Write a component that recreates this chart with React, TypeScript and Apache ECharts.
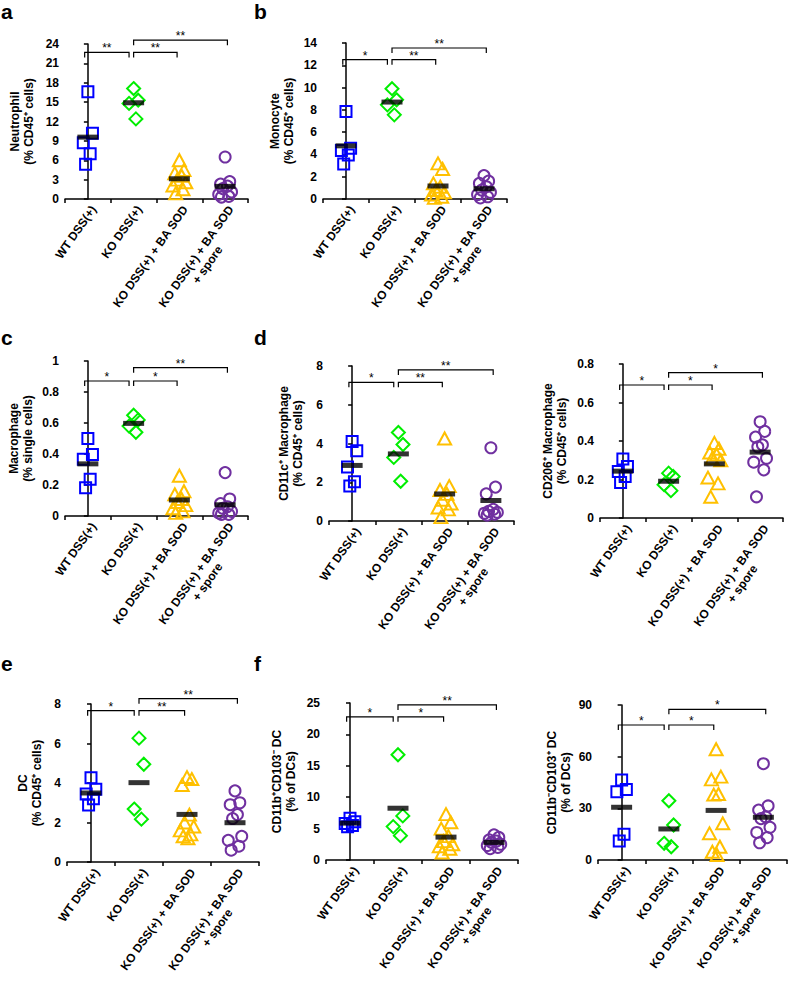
import React, { useEffect, useRef } from 'react';
import * as echarts from 'echarts';

const FONT = '"Liberation Sans", Arial, Helvetica, sans-serif';

const groupLabels = ['WT DSS(+)', 'KO DSS(+)', 'KO DSS(+) + BA SOD', 'KO DSS(+) + BA SOD\n+ spore'];
const groupColors = ['#0000FF', '#00EE00', '#FFC000', '#7030A0'];
const groupSymbols = ['rect', 'diamond', 'triangle', 'circle'];

// values per group: WT, KO, KO+BA SOD, KO+BA SOD+spore
const neutrophil = [
  [16.6, 10.2, 8.7, 7.0, 5.4],
  [17.1, 15.3, 14.8, 12.4],
  [6.0, 4.5, 4.0, 3.6, 3.0, 2.6, 2.1, 1.5, 0.9],
  [6.5, 2.7, 2.3, 2.0, 1.6, 1.1, 0.7, 0.4, 0.3],
];
const monocyte = [
  [7.85, 4.55, 4.35, 3.95, 3.15],
  [9.9, 8.9, 8.45, 7.55],
  [3.2, 2.7, 1.4, 1.1, 0.8, 0.6, 0.4, 0.2, 0.1],
  [2.1, 1.6, 1.4, 1.1, 0.8, 0.6, 0.4, 0.2, 0.1],
];
const macrophage = [
  [0.5, 0.396, 0.366, 0.237, 0.183],
  [0.65, 0.62, 0.58, 0.54],
  [0.26, 0.16, 0.14, 0.11, 0.09, 0.07, 0.05, 0.03, 0.02],
  [0.28, 0.11, 0.08, 0.06, 0.05, 0.03, 0.02, 0.01, 0.01],
];
const cd11cMacrophage = [
  [4.1, 3.62, 2.79, 2.02, 1.81],
  [4.57, 3.95, 3.28, 2.05],
  [4.26, 1.8, 1.6, 1.4, 1.1, 0.9, 0.7, 0.6, 0.2],
  [3.78, 1.75, 1.4, 0.6, 0.5, 0.45, 0.4, 0.35, 0.3],
];
const cd206Macrophage = [
  [0.306, 0.268, 0.242, 0.216, 0.185],
  [0.233, 0.216, 0.173, 0.142],
  [0.39, 0.36, 0.34, 0.33, 0.31, 0.3, 0.21, 0.18, 0.11],
  [0.5, 0.45, 0.42, 0.38, 0.37, 0.31, 0.29, 0.25, 0.11],
];
const dendritic = [
  [4.27, 3.68, 3.44, 3.2, 2.88],
  [6.27, 4.95, 2.68, 2.17],
  [4.3, 4.2, 3.9, 2.4, 2.0, 1.8, 1.6, 1.4, 1.3, 1.2],
  [3.6, 3.0, 2.9, 2.4, 2.2, 1.3, 1.1, 0.8, 0.6],
];
const cd11bPosDC = [
  [6.65, 6.1, 5.8, 5.5, 5.3],
  [16.76, 7.02, 5.32, 3.88],
  [7.3, 6.0, 5.0, 3.8, 3.0, 2.5, 2.2, 1.8, 1.2],
  [4.0, 3.6, 3.2, 3.0, 2.8, 2.5, 2.3, 2.0, 1.8],
];
const cd103PosDC = [
  [46.4, 41, 39.7, 15, 11],
  [34.4, 20.3, 9.7, 7.7],
  [64.3, 48.4, 46.8, 38.3, 38, 21.3, 15.5, 7.7, 4.8, 2.9],
  [55.9, 31.4, 29, 25, 24, 19, 16, 13, 10],
];

// significance brackets: heights and labels (pairs WT–KO, KO–BA SOD, KO–spore)
const neutrophilSig = [22.7, 22.7, 24.6];
const neutrophilStars = ['**', '**', '**'];
const monocyteSig = [12.5, 12.5, 13.55];
const monocyteStars = ['*', '**', '**'];
const macrophageSig = [0.871, 0.871, 0.957];
const macrophageStars = ['*', '*', '**'];
const cd11cSig = [7.16, 7.16, 7.8];
const cd11cStars = ['*', '**', '**'];
const cd206Sig = [0.691, 0.691, 0.755];
const cd206Stars = ['*', '*', '*'];
const dcSig = [7.66, 7.66, 8.27];
const dcStars = ['*', '**', '**'];
const cd11bSig = [22.8, 22.8, 24.7];
const cd11bStars = ['*', '*', '**'];
const cd103Sig = [78.4, 78.4, 87.5];
const cd103Stars = ['*', '*', '*'];

const yNames = [
  'Neutrophil\n(% CD45⁺ cells)',
  'Monocyte\n(% CD45⁺ cells)',
  'Macrophage\n(% single cells)',
  'CD11c⁺ Macrophage\n(% CD45⁺ cells)',
  'CD206⁺ Macrophage\n(% CD45⁺ cells)',
  'DC\n(% CD45⁺ cells)',
  'CD11b⁺CD103⁻ DC\n(% of DCs)',
  'CD11b⁻CD103⁺ DC\n(% of DCs)',
];
const yMax = [24, 14, 1, 8, 0.8, 8, 25, 90];
const yInterval = [3, 2, 0.2, 2, 0.2, 2, 5, 30];

const panelData = [neutrophil, monocyte, macrophage, cd11cMacrophage, cd206Macrophage, dendritic, cd11bPosDC, cd103PosDC];
const panelSig = [neutrophilSig, monocyteSig, macrophageSig, cd11cSig, cd206Sig, dcSig, cd11bSig, cd103Sig];
const panelStars = [neutrophilStars, monocyteStars, macrophageStars, cd11cStars, cd206Stars, dcStars, cd11bStars, cd103Stars];

// layout (pixels)
const grids = [
  { left: 65, top: 44, width: 183, height: 155, gap: 29 },
  { left: 323, top: 43, width: 184, height: 156, gap: 27 },
  { left: 65, top: 361, width: 183, height: 155, gap: 30 },
  { left: 329, top: 366, width: 185, height: 155, gap: 24 },
  { left: 600, top: 364, width: 183, height: 154, gap: 31 },
  { left: 67, top: 704, width: 192, height: 158, gap: 23 },
  { left: 326, top: 703, width: 192, height: 157, gap: 28 },
  { left: 598, top: 705, width: 189, height: 155, gap: 25 },
];
const bracketX = [[-0.07, 0.9], [1.0, 1.95], [1.0, 3.05]];
const jitter = [0, 0.1, -0.1, 0.05, -0.05, 0.14, -0.14, 0.08, -0.08, 0.02];
const letters = [
  { t: 'a', x: 1, y: 11.7 }, { t: 'b', x: 254, y: 11.7 },
  { t: 'c', x: 1, y: 337.7 }, { t: 'd', x: 254, y: 337.7 },
  { t: 'e', x: 1, y: 663.7 }, { t: 'f', x: 254, y: 663.7 },
];

function mean(a: number[]) {
  return a.reduce((s, v) => s + v, 0) / a.length;
}

function buildOption() {
  const grid: any[] = [];
  const xAxis: any[] = [];
  const yAxis: any[] = [];
  const series: any[] = [];
  const axisLine = { show: true, lineStyle: { color: '#000', width: 1.5 } };
  const axisTick = { show: true, length: 4, lineStyle: { color: '#000', width: 1.5 } };
  const labelBase = { fontFamily: FONT, fontWeight: 'bold', fontSize: 12, color: '#000' };

  panelData.forEach((groups, p) => {
    const g = grids[p];
    grid.push({ left: g.left, top: g.top, width: g.width, height: g.height, containLabel: false, outerBoundsMode: 'none' });
    xAxis.push({
      type: 'category', gridIndex: p, data: groupLabels, position: 'bottom',
      axisLine, axisTick,
      axisLabel: {
        ...labelBase, rotate: 55, margin: 4, interval: 0, hideOverlap: false,
        verticalAlign: 'top', lineHeight: 14,
        formatter: (v: string) => {
          const parts = v.split('\n');
          if (parts.length === 1) return v;
          return parts[0] + '\n{c|' + parts[1] + '}';
        },
        rich: { c: { ...labelBase, align: 'center', lineHeight: 14 } },
      },
      splitLine: { show: false },
    });
    xAxis.push({ type: 'value', gridIndex: p, min: -0.5, max: 3.5, show: false });
    yAxis.push({
      type: 'value', gridIndex: p, min: 0, max: yMax[p], interval: yInterval[p],
      name: yNames[p], nameLocation: 'middle', nameGap: g.gap, nameRotate: 90, nameMoveOverlap: false,
      nameTextStyle: { fontFamily: FONT, fontWeight: 'bold', fontSize: 12, lineHeight: 14, color: '#000' },
      axisLine, axisTick,
      axisLabel: { ...labelBase, margin: 6 },
      splitLine: { show: false },
    });
    groups.forEach((vals, k) => {
      series.push({
        type: 'scatter', xAxisIndex: 2 * p + 1, yAxisIndex: p,
        symbol: groupSymbols[k],
        symbolSize: k === 1 ? 13 : k === 2 ? [13, 12] : 11,
        itemStyle: { color: 'rgba(0,0,0,0)', borderColor: groupColors[k], borderWidth: 2, opacity: 1 },
        data: vals.map((v, i) => [k + jitter[i % jitter.length], v]),
        z: 2,
      });
    });
    series.push({
      type: 'scatter', xAxisIndex: 2 * p + 1, yAxisIndex: p,
      symbol: 'rect', symbolSize: [21, 5],
      itemStyle: { color: '#000' },
      data: groups.map((vals, k) => [k, mean(vals)]),
      z: 5,
    });
    const stars = panelStars[p];
    series.push({
      type: 'custom', xAxisIndex: 2 * p + 1, yAxisIndex: p, clip: false,
      data: panelSig[p].map((y, k) => [bracketX[k][0], y, bracketX[k][1]]),
      renderItem: (params: any, api: any) => {
        const x1 = api.value(0);
        const y = api.value(1);
        const x2 = api.value(2);
        const a = api.coord([x1, y]);
        const b = api.coord([x2, y]);
        return {
          type: 'group',
          children: [
            {
              type: 'polyline',
              shape: { points: [[a[0], a[1] + 5], [a[0], a[1]], [b[0], b[1]], [b[0], b[1] + 5]] },
              style: { stroke: '#000', lineWidth: 1.2, fill: null },
            },
            {
              type: 'text',
              style: {
                text: stars[params.dataIndex],
                x: (a[0] + b[0]) / 2, y: a[1] - 4,
                align: 'center', verticalAlign: 'middle',
                textAlign: 'center', textVerticalAlign: 'middle',
                fontSize: 12, fontFamily: FONT, fill: '#000',
              },
            },
          ],
        };
      },
      z: 3,
    });
  });

  const graphic = letters.map((l) => ({
    type: 'text', x: l.x, y: l.y,
    style: {
      text: l.t, fontSize: 21, fontWeight: 'bold', fontFamily: FONT, fill: '#000',
      verticalAlign: 'middle', textVerticalAlign: 'middle',
    },
  }));

  return { animation: false, backgroundColor: '#fff', grid, xAxis, yAxis, series, graphic };
}

export default function App() {
  const ref = useRef<HTMLDivElement>(null);
  useEffect(() => {
    if (!ref.current) return;
    const chart = echarts.init(ref.current, undefined, { renderer: 'svg' });
    chart.setOption(buildOption() as any);
    return () => chart.dispose();
  }, []);
  return <div ref={ref} style={{ position: 'absolute', left: 0, top: 0, width: 789, height: 981 }} />;
}
